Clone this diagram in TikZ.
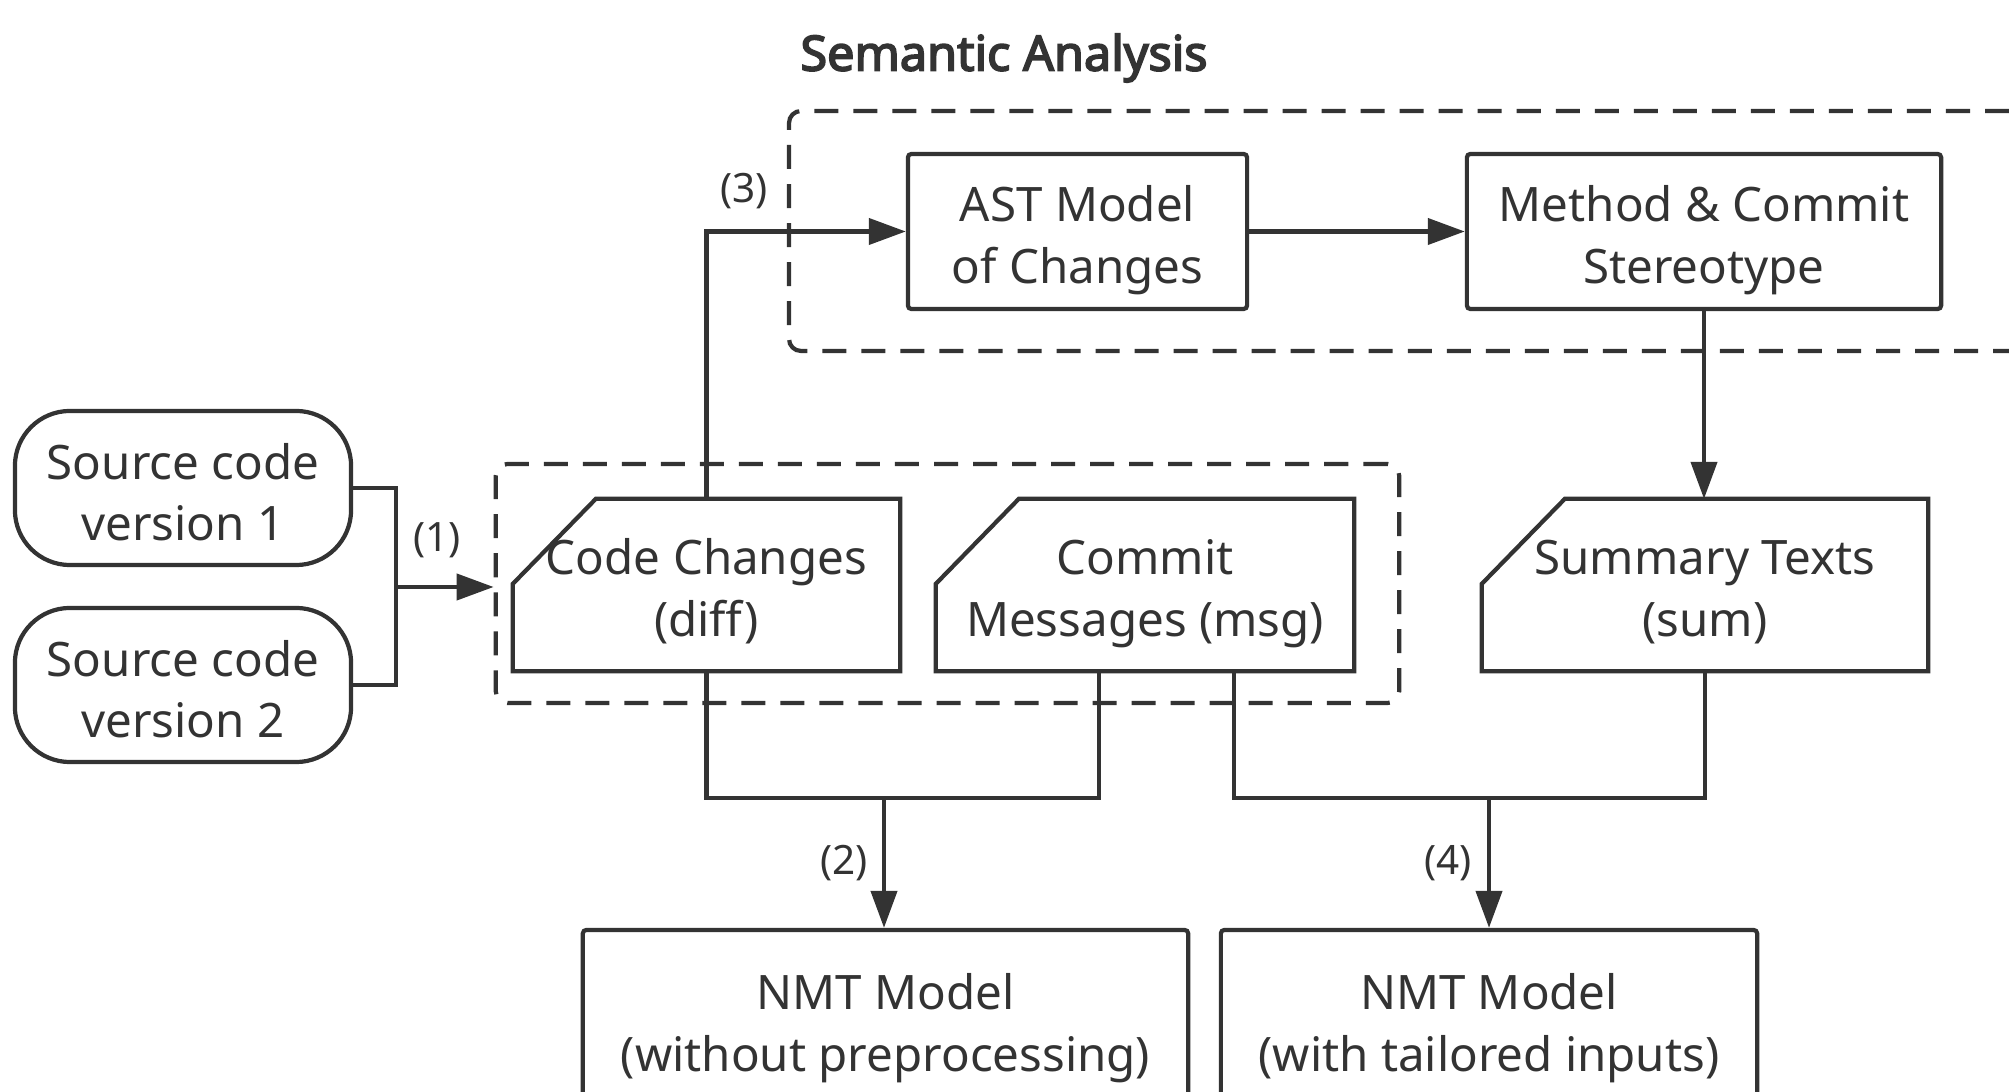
\documentclass[tikz,border=0pt]{standalone}
\usepackage{fontspec}
\setmainfont{Noto Sans}
\newfontfamily\titlefont[FakeBold=3.5]{Noto Sans}
\usetikzlibrary{arrows.meta}
\definecolor{ink}{HTML}{333333}

\begin{document}
\begin{tikzpicture}[x=0.01cm,y=-0.01cm,
    line width=1.2pt,draw=ink,text=ink,
    every node/.style={font=\fontsize{13.5}{17.5}\selectfont,align=center,inner sep=0pt},
    src/.style={draw,rounded corners=0.55cm,minimum width=3.36cm,minimum height=1.54cm,text height=30pt,text depth=0pt},
    blk/.style={draw,rounded corners=1pt,minimum height=1.55cm,text height=33pt,text depth=3.4pt},
    card/.style={minimum height=1.68cm,text height=32.6pt,text depth=3.4pt},
    tag/.style={font=\fontsize{11.5}{14}\selectfont},
    grp/.style={draw,dash pattern=on 0.24cm off 0.15cm,rounded corners=0.12cm},
    arr/.style={-{Triangle[length=0.37cm,width=0.26cm]}}]
    \useasboundingbox (0,0) rectangle (2009,1092);
    \node[font=\fontsize{13.8}{17}\titlefont] (title) at (1004,58) {Semantic Analysis};
    \draw[grp] (2009,111) -- (789,111) -- (789,351) -- (2009,351);
    \node[blk,minimum width=3.39cm] (ast) at (1077.5,231.5) {AST Model\\of Changes};
    \node[blk,minimum width=4.74cm] (stereo) at (1704,231.5) {Method \& Commit\\Stereotype};
    \node[src] (v1) at (183,488) {Source code\\version 1};
    \node[src] (v2) at (183,685) {Source code\\version 2};
    \node[grp,minimum width=9.03cm,minimum height=2.39cm] (inputs) at (947.5,583.5) {};
    \node[card,minimum width=3.83cm] (diff) at (706.5,585) {Code Changes\\(diff)};
    \node[card,minimum width=4.14cm] (msg) at (1145,585) {Commit\\Messages (msg)};
    \node[card,minimum width=4.42cm] (sum) at (1705,585) {Summary Texts\\(sum)};
    % cut-corner outline of the data cards
    \foreach \c in {diff,msg,sum}
        \draw ([yshift=-0.85cm]\c.north west) -- ([xshift=0.83cm]\c.north west) -- (\c.north east)
            -- (\c.south east) -- (\c.south west) -- cycle;
    \node[blk,minimum width=6.05cm,minimum height=1.78cm] (nmt1) at (885.5,1019) {NMT Model\\(without preprocessing)};
    \node[blk,minimum width=5.36cm,minimum height=1.78cm] (nmt2) at (1489,1019) {NMT Model\\(with tailored inputs)};
    \coordinate (j1) at (396,587);
    \coordinate (bus1) at (884,798);
    \coordinate (bus2) at (1489,798);
    % (1)
    \draw (v1.east) -| (j1);
    \draw (v2.east) -| (j1);
    \draw[arr] (j1) -- (inputs.west |- j1);
    \node[tag] (l1) at (437,540) {(1)};
    % (3)
    \draw[arr] (diff.north) |- (ast.west);
    \node[tag] (l3) at (744,191) {(3)};
    \draw[arr] (ast) -- (stereo);
    \draw[arr] (stereo.south) -- (stereo.south |- sum.north);
    % (2)
    \draw (diff.south) |- ([xshift=-4.6mm]msg.south |- bus1) -- ([xshift=-4.6mm]msg.south);
    \draw[arr] (bus1) -- (bus1 |- nmt1.north);
    \node[tag] (l2) at (844,863) {(2)};
    % (4)
    \draw ([xshift=8.9mm]msg.south) |- (sum.south |- bus2) -- (sum.south);
    \draw[arr] (bus2) -- (bus2 |- nmt2.north);
    \node[tag] (l4) at (1448,863) {(4)};
\end{tikzpicture}
\end{document}
